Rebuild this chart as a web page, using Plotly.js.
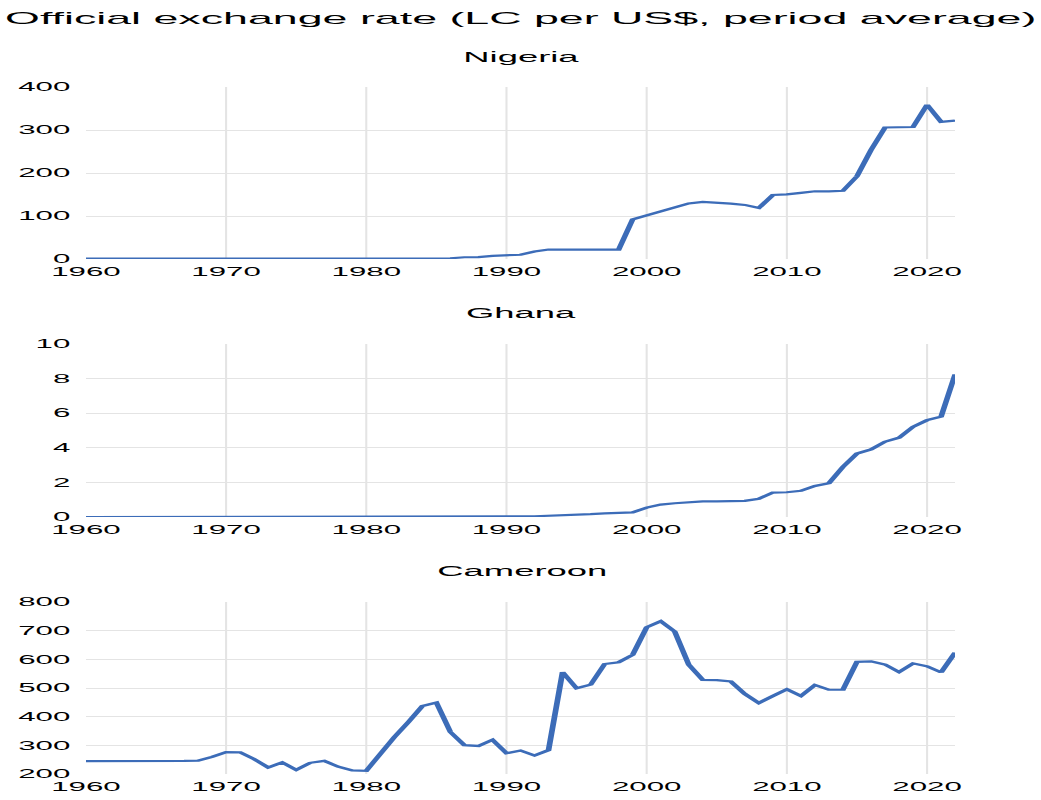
<!DOCTYPE html>
<html>
<head>
<meta charset="utf-8">
<script src="https://cdn.plot.ly/plotly-3.0.1.min.js"></script>
<style>
  html, body { margin: 0; padding: 0; background: #fff; overflow: hidden; }
  #chart { width: 400px; height: 800px; transform: scaleX(2.6025); transform-origin: 0 0; }
</style>
</head>
<body>
<div id="chart"></div>
<script>
const years = [1960,1961,1962,1963,1964,1965,1966,1967,1968,1969,
  1970,1971,1972,1973,1974,1975,1976,1977,1978,1979,
  1980,1981,1982,1983,1984,1985,1986,1987,1988,1989,
  1990,1991,1992,1993,1994,1995,1996,1997,1998,1999,
  2000,2001,2002,2003,2004,2005,2006,2007,2008,2009,
  2010,2011,2012,2013,2014,2015,2016,2017,2018,2019,
  2020,2021,2022];

const nigeria = [0.714,0.714,0.714,0.714,0.714,0.714,0.714,0.714,0.714,0.714,
  0.714,0.696,0.658,0.658,0.630,0.616,0.627,0.645,0.635,0.604,
  0.547,0.610,0.673,0.724,0.767,0.894,1.755,4.016,4.537,7.365,
  8.038,9.909,17.30,22.07,21.89,21.89,21.88,21.89,21.89,92.34,
  101.7,111.2,120.6,129.2,132.9,131.3,128.7,125.8,118.6,148.9,
  150.3,153.9,157.5,157.3,158.6,192.4,253.5,305.8,306.1,306.9,
  358.8,319,322];

const ghana = [0.00007,0.00007,0.00007,0.00007,0.00007,0.00007,0.00007,0.00009,0.0001,0.0001,
  0.0001,0.0001,0.00013,0.00012,0.00012,0.00012,0.00012,0.00012,0.00015,0.00028,
  0.00028,0.00028,0.00028,0.003,0.0036,0.0054,0.0089,0.0154,0.0202,0.027,
  0.0326,0.0368,0.0438,0.0649,0.0956,0.12,0.164,0.205,0.231,0.265,
  0.545,0.716,0.793,0.868,0.900,0.906,0.917,0.935,1.058,1.409,
  1.431,1.512,1.796,1.953,2.90,3.668,3.910,4.351,4.585,5.217,
  5.596,5.806,8.25];

const cameroon = [245.2,245.0,245.0,245.0,245.0,245.0,245.3,246.0,246.9,260.0,
  276.4,275.4,252.0,222.9,240.7,214.3,239.0,245.7,225.7,212.7,
  211.3,271.7,328.6,381.1,437.0,449.3,346.3,300.5,297.8,319.0,
  272.3,282.1,264.7,283.2,555.2,499.2,511.6,583.7,590.0,615.7,
  712.0,733.0,697.0,581.2,528.3,527.5,522.9,479.3,447.8,472.2,
  495.3,471.9,510.5,493.9,494.0,591.2,593.0,582.1,555.4,585.9,
  575.6,554.5,623.8];

const mainTitle = "Official exchange rate (LC per US$, period average)";
const panelTitles = ["Nigeria", "Ghana", "Cameroon"];
const xTicks = [1960,1970,1980,1990,2000,2010,2020];
const nigeriaTicks = [0,100,200,300,400];
const ghanaTicks = [0,2,4,6,8,10];
const cameroonTicks = [200,300,400,500,600,700,800];

const lineColor = "#3c6cb8";
const gridColor = "#e4e4e4";
const fontFam = "Liberation Sans, Arial, sans-serif";

function trace(y, xa, ya) {
  return {x: years, y: y, xaxis: xa, yaxis: ya, type: "scatter", mode: "lines",
    line: {color: lineColor, width: 2.2}, hoverinfo: "skip", showlegend: false};
}

function xaxis(anchor) {
  return {anchor: anchor, domain: [0, 1], range: [1960, 2022], tickvals: xTicks,
    showgrid: false, zeroline: false, showline: false, ticks: "", ticklabelstandoff: 4,
    minor: {tickvals: xTicks.slice(1), showgrid: true, gridcolor: gridColor, gridwidth: 0.8, ticks: ""},
    tickfont: {family: fontFam, size: 12, color: "#000"}, fixedrange: true};
}
function yaxis(anchor, dom, tv) {
  return {anchor: anchor, domain: dom, range: [tv[0], tv[tv.length - 1]], tickvals: tv,
    showgrid: false, zeroline: false, showline: false, ticks: "", ticklabelstandoff: 5,
    minor: {tickvals: tv.slice(1, -1), showgrid: true, gridcolor: gridColor, gridwidth: 1, ticks: ""},
    tickfont: {family: fontFam, size: 12, color: "#000"}, fixedrange: true};
}

const H = 800;
function py(px) { return 1 - px / H; }

const data = [trace(nigeria, "x", "y"), trace(ghana, "x2", "y2"), trace(cameroon, "x3", "y3")];

function title(text, ypx, size) {
  return {text: text, xref: "paper", yref: "paper", x: 0.5, y: py(ypx), xanchor: "center", yanchor: "middle",
    showarrow: false, font: {family: fontFam, size: size, color: "#000"}};
}

const layout = {
  width: 400, height: 800,
  margin: {l: 33, r: 33, t: 0, b: 0},
  paper_bgcolor: "#fff", plot_bgcolor: "#fff",
  font: {family: fontFam, color: "#000"},
  xaxis: xaxis("y"), xaxis2: xaxis("y2"), xaxis3: xaxis("y3"),
  yaxis: yaxis("x", [py(259), py(87)], nigeriaTicks),
  yaxis2: yaxis("x2", [py(517), py(344)], ghanaTicks),
  yaxis3: yaxis("x3", [py(774), py(602)], cameroonTicks),
  annotations: [
    title(mainTitle, 18.5, 17.2),
    title(panelTitles[0], 57, 14),
    title(panelTitles[1], 313, 14),
    title(panelTitles[2], 571, 14)
  ]
};

Plotly.newPlot("chart", data, layout, {displayModeBar: false, staticPlot: true});
</script>
</body>
</html>
